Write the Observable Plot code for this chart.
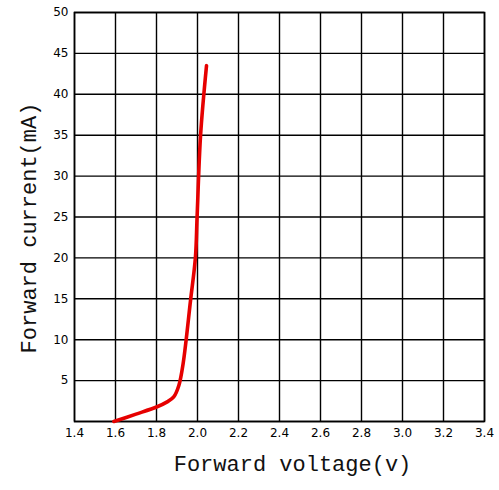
<!DOCTYPE html>
<html><head><meta charset="utf-8">
<script src="https://cdn.jsdelivr.net/npm/d3@7"></script>
<script src="https://cdn.jsdelivr.net/npm/@observablehq/plot@0.6"></script>
<style>
body{margin:0;background:#fff}
#chart svg{font-family:"DejaVu Sans",sans-serif}
</style>
</head><body><div id="chart"></div>
<script>
const voltage = [1.592, 1.70, 1.803, 1.852, 1.884, 1.909, 1.930, 1.966, 1.990, 1.998, 2.015, 2.044];
const current = [0, 0.9, 1.8, 2.4, 3.0, 4.4, 7.1, 14.8, 20.1, 25.0, 35.0, 43.5];
const xTicks = [1.4, 1.6, 1.8, 2.0, 2.2, 2.4, 2.6, 2.8, 3.0, 3.2, 3.4];
const yTicks = [5, 10, 15, 20, 25, 30, 35, 40, 45, 50];
const yGrid = [0, 5, 10, 15, 20, 25, 30, 35, 40, 45, 50];
const xLabel = "Forward voltage(v)";
const yLabel = "Forward current(mA)";

const data = voltage.map((v, i) => ({v, i: current[i]}));

const chart = Plot.plot({
  width: 499,
  height: 490,
  marginLeft: 74,
  marginRight: 15,
  marginTop: 12,
  marginBottom: 69,
  style: {background: "#fff", fontSize: "12px", fontFamily: "DejaVu Sans, sans-serif", color: "#000"},
  x: {domain: [1.4, 3.4]},
  y: {domain: [0, 50]},
  marks: [
    Plot.gridX(xTicks, {stroke: "#000", strokeOpacity: 1, strokeWidth: 1.4}),
    Plot.gridY(yGrid, {stroke: "#000", strokeOpacity: 1, strokeWidth: 1.4}),
    Plot.frame({stroke: "#000", strokeWidth: 1.6}),
    Plot.axisX(xTicks, {tickSize: 0, tickPadding: 7, tickFormat: d3.format(".1f"), label: null, fontSize: 12}),
    Plot.axisY(yTicks, {tickSize: 0, tickPadding: 6, label: null, fontSize: 12}),
    Plot.line(data, {x: "v", y: "i", stroke: "#e60000", strokeWidth: 3.6, curve: "catmull-rom", strokeLinecap: "round", strokeLinejoin: "round"}),
    Plot.text([xLabel], {text: d => d, frameAnchor: "bottom", dx: 13, dy: 49, fontSize: 22, fontFamily: "Liberation Mono, monospace", fill: "#111"}),
    Plot.text([yLabel], {text: d => d, frameAnchor: "left", textAnchor: "middle", rotate: -90, dx: -46, dy: 11, fontSize: 22, fontFamily: "Liberation Mono, monospace", fill: "#111"})
  ]
});
document.getElementById("chart").appendChild(chart);
</script>
</body></html>
